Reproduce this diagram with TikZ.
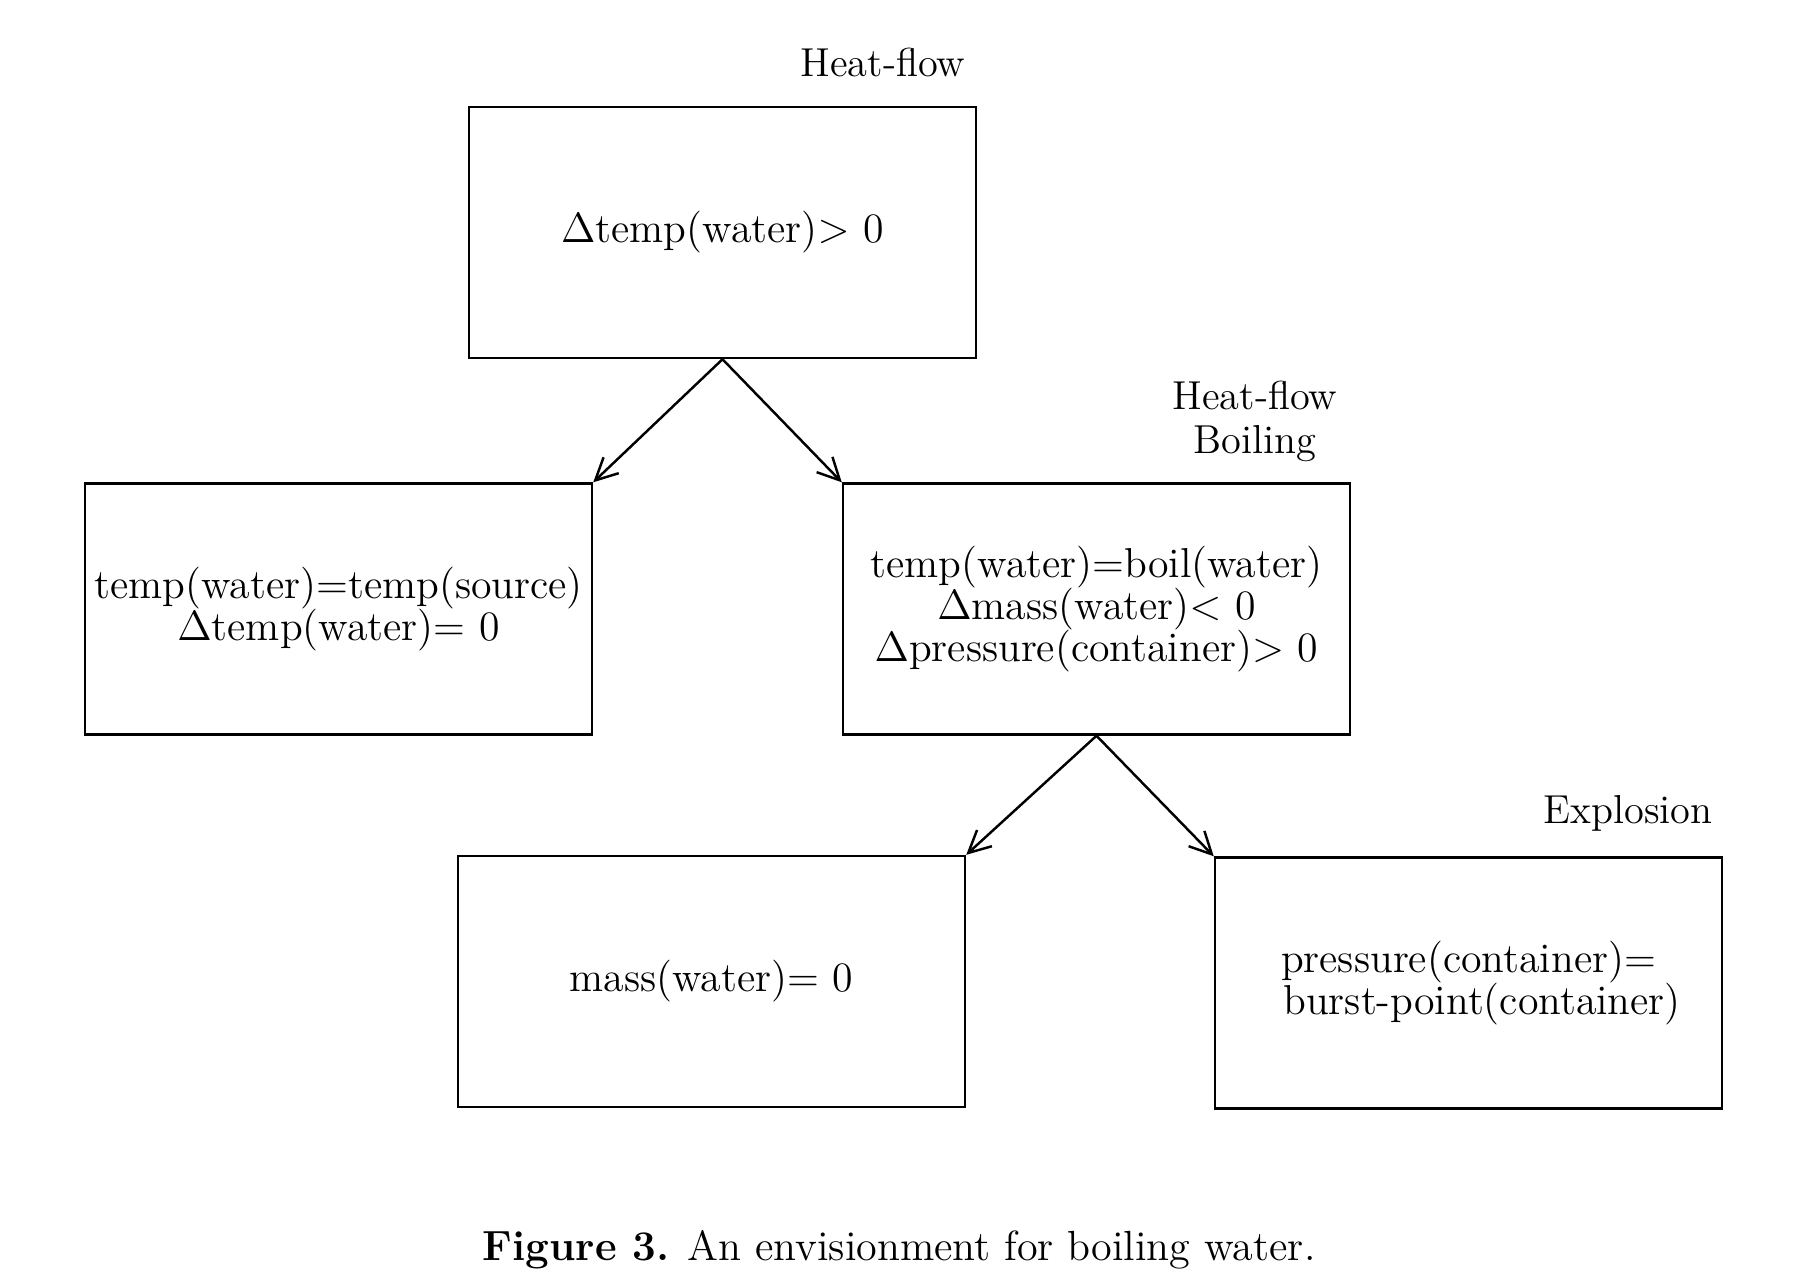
\documentclass[tikz,border=0pt]{standalone}
\usepackage{amsmath}
\usepackage{amssymb}
\usepackage{tikz}
\usetikzlibrary{arrows.meta}

\begin{document}
\begin{tikzpicture}
  [x=1cm,y=1cm,line width=0.7pt,
   state/.style={draw,minimum width=5.07cm,minimum height=2.51cm,align=center,inner sep=0pt,font=\fontsize{11.9}{12}\selectfont},
   tag/.style={align=center,font=\fontsize{11.5}{12.5}\selectfont}]

  \useasboundingbox (0,0) rectangle (18.06,-12.86);

  \node[state] (n1) at (7.225,-2.325) {$\Delta$temp(water)$>$ 0};
  \node[state] (n2) at (3.385,-6.09) {temp(water)=temp(source)\\$\Delta$temp(water)= 0};
  \node[state] (n3) at (10.965,-6.09) {temp(water)=boil(water)\\$\Delta$mass(water)$<$ 0\\$\Delta$pressure(container)$>$ 0};
  \node[state] (n4) at (7.115,-9.815) {mass(water)= 0};
  \node[state] (n5) at (14.685,-9.83) {pressure(container)=\\\ \ burst-point(container)};
  \node[tag] (n6) at (8.83,-0.62) {Heat-flow};
  \node[tag] (n7) at (12.55,-4.21) {Heat-flow\\Boiling};
  \node[tag] (n8) at (16.28,-8.13) {Explosion};
  \node (n9) at (8.99,-12.5) {\fontsize{12}{14}\selectfont\textbf{Figure 3.} An envisionment for boiling water.};
  \foreach \from/\to in {n1.south/n2.north east,n1.south/n3.north west,n3.south/n4.north east,n3.south/n5.north west}
    \draw[-{Straight Barb[length=2.2mm,width=2.2mm]}] (\from) -- (\to);
\end{tikzpicture}
\end{document}
